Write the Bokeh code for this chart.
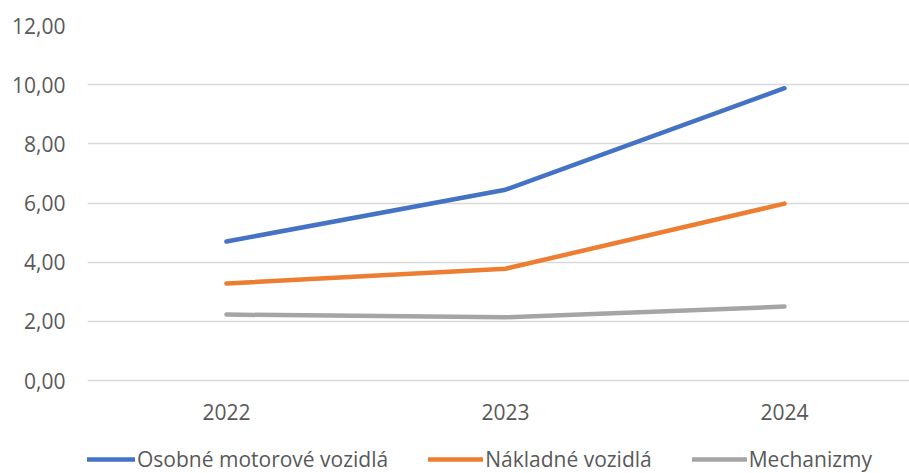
from bokeh.plotting import figure
from bokeh.models import FixedTicker, Legend, LegendItem, Range1d, ColumnDataSource
from bokeh.core.properties import value
from bokeh.embed import file_html
from bokeh.resources import INLINE

years = ["2022", "2023", "2024"]
osobne = [4.70, 6.45, 9.88]
nakladne = [3.28, 3.78, 5.98]
mechanizmy = [2.23, 2.14, 2.50]
series_names = ["Osobné motorové vozidlá", "Nákladné vozidlá", "Mechanizmy"]
colors = ["#4472C4", "#ED7D31", "#A5A5A5"]
y_ticks = [0, 2, 4, 6, 8, 10, 12]
y_tick_labels = ["0,00", "2,00", "4,00", "6,00", "8,00", "10,00", "12,00"]

x = list(range(len(years)))
FONT = "Open Sans"
TXT = "#595959"
FS = "21px"

# frame runs to the bottom of the figure; x labels and legend live inside it, below the 0 line
p = figure(width=909, height=473, output_backend="svg", toolbar_location=None,
           x_range=Range1d(-0.498, 2.448), y_range=Range1d(-3.14, 12),
           min_border_left=87, min_border_right=0, min_border_top=25,
           min_border_bottom=0)
p.outline_line_color = None
p.background_fill_color = "white"
p.border_fill_color = "white"

renderers = []
for vals, c in zip([osobne, nakladne, mechanizmy], colors):
    r = p.line(x, vals, line_color=c, line_width=4.5, line_cap="round", line_join="round")
    renderers.append(r)

# category labels under the zero line
lab_src = ColumnDataSource(dict(x=x, y=[0] * len(x), t=years))
p.text("x", "y", text="t", source=lab_src, y_offset=31,
       text_font=value(FONT), text_font_size=value(FS), text_color=TXT,
       text_align="center", text_baseline="middle")

p.xaxis.visible = False
p.yaxis.ticker = FixedTicker(ticks=y_ticks)
p.yaxis.major_label_overrides = {t: l for t, l in zip(y_ticks, y_tick_labels)}
p.yaxis.axis_line_color = None
p.yaxis.major_tick_line_color = None
p.yaxis.minor_tick_line_color = None
p.yaxis.major_tick_out = 0
p.yaxis.major_tick_in = 0
p.yaxis.major_label_text_font = FONT
p.yaxis.major_label_text_font_size = FS
p.yaxis.major_label_text_color = TXT
p.yaxis.major_label_standoff = 22

p.xgrid.grid_line_color = None
p.ygrid.grid_line_color = "#D9D9D9"
p.ygrid.grid_line_width = 1.5
p.ygrid.ticker = FixedTicker(ticks=y_ticks)

legend = Legend(items=[LegendItem(label=n, renderers=[r]) for n, r in zip(series_names, renderers)],
                orientation="horizontal", location=(-7, 0),
                label_text_font=FONT, label_text_font_size=FS, label_text_color=TXT,
                glyph_width=55, glyph_height=20, label_standoff=2, spacing=40,
                padding=0, margin=0, border_line_color=None, background_fill_alpha=0)
p.add_layout(legend, "center")

open("out.html", "w").write(file_html(p, INLINE))
